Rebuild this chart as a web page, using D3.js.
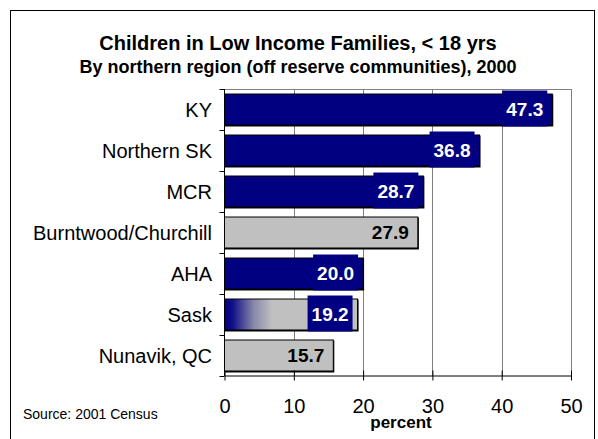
<!DOCTYPE html>
<html><head><meta charset="utf-8">
<script src="https://cdn.jsdelivr.net/npm/d3@7"></script>
<style>body{margin:0;background:#fff}svg{display:block;font-family:"Liberation Sans",Arial,sans-serif}</style>
</head><body>
<svg id="c" width="598" height="439"></svg>
<script>
const categories = ["KY","Northern SK","MCR","Burntwood/Churchill","AHA","Sask","Nunavik, QC"];
const values = [47.3,36.8,28.7,27.9,20.0,19.2,15.7];
const barStyle = ["navy","navy","navy","gray","navy","gradient","gray"];
const xTicks = [0,10,20,30,40,50];
const title = "Children in Low Income Families, < 18 yrs";
const subtitle = "By northern region (off reserve communities), 2000";

const svg = d3.select("#c");
const defs = svg.append("defs");
const g1 = defs.append("linearGradient").attr("id","sg").attr("x1","0").attr("x2","1").attr("y1","0").attr("y2","0");
g1.append("stop").attr("offset","0").attr("stop-color","#000080");
g1.append("stop").attr("offset","0.06").attr("stop-color","#101088");
g1.append("stop").attr("offset","0.22").attr("stop-color","#8888aa");
g1.append("stop").attr("offset","0.36").attr("stop-color","#c0c0c0");
g1.append("stop").attr("offset","1").attr("stop-color","#c0c0c0");

// outer border
svg.append("rect").attr("x",10.5).attr("y",10.5).attr("width",584).attr("height",440)
  .attr("fill","none").attr("stroke","#000").attr("stroke-width",1);

const L = 224.5, R = 571, T = 89, B = 376;
const x = d3.scaleLinear().domain([0,50]).range([L,R]);
const y = d3.scaleBand().domain(categories).range([T,B]).paddingInner(0.22).paddingOuter(0.11);

// gridlines
svg.append("g").selectAll("line").data(xTicks.slice(1)).join("line")
  .attr("x1",d=>Math.round(x(d))+0.5).attr("x2",d=>Math.round(x(d))+0.5)
  .attr("y1",T).attr("y2",B).attr("stroke","#808080").attr("stroke-width",1);
svg.append("line").attr("x1",L).attr("x2",Math.round(R)+0.5).attr("y1",T+0.5).attr("y2",T+0.5).attr("stroke","#808080");

// bars
const bars = svg.append("g");
categories.forEach((c,i)=>{
  const v = values[i], st = barStyle[i];
  const by = y(c), bh = y.bandwidth();
  const fill = st==="navy" ? "#000080" : st==="gray" ? "#c0c0c0" : "url(#sg)";
  bars.append("rect").attr("x",x(0)).attr("y",by+1).attr("width",x(v)-x(0)+1).attr("height",bh).attr("fill","#000");
  bars.append("rect").attr("x",x(0)).attr("y",by+0.5).attr("width",x(v)-x(0)).attr("height",bh-1)
    .attr("fill",fill).attr("stroke","#000").attr("stroke-width",1);
});

// labels
categories.forEach((c,i)=>{
  const v = values[i], st = barStyle[i];
  const cy = y(c) + y.bandwidth()/2;
  const txt = v.toFixed(1);
  const tx = x(v) - 9;
  const t = svg.append("text").attr("x",tx).attr("y",cy).attr("dy","0.36em")
    .attr("text-anchor","end").attr("font-weight","bold").attr("font-size","19px")
    .attr("fill", st==="gray" ? "#000" : "#fff").text(txt);
  if (st!=="gray") {
    const bb = t.node().getBBox();
    svg.insert("rect", () => t.node()).attr("x",bb.x-4).attr("y",y(c)-3).attr("width",bb.width+8).attr("height",y.bandwidth()+4)
      .attr("fill","#000080");
  }
});

// axes
svg.append("line").attr("x1",L).attr("x2",L).attr("y1",T).attr("y2",B).attr("stroke","#000");
const bounds = d3.range(categories.length+1).map(i=> i<categories.length ? y(categories[i]) - y.step()*y.paddingInner()/2 : B);
bounds[0]=T;
svg.append("g").selectAll("line").data(bounds).join("line")
  .attr("x1",L-5).attr("x2",L).attr("y1",d=>Math.round(d)+0.5).attr("y2",d=>Math.round(d)+0.5).attr("stroke","#000");
svg.append("g").selectAll("text").data(categories).join("text")
  .attr("x",212).attr("y",d=>y(d)+y.bandwidth()/2).attr("dy","0.36em")
  .attr("text-anchor","end").attr("font-size","20px").attr("fill","#000").text(d=>d);

const xAxis = d3.axisBottom(x).tickValues(xTicks).tickSize(5).tickSizeOuter(0).tickPadding(18);
const xa = svg.append("g").attr("transform",`translate(0,${B-0.5})`).call(xAxis);
xa.select(".domain").attr("stroke","#000");
xa.selectAll(".tick line").attr("y1",-5).attr("y2",5).attr("stroke","#000");
xa.selectAll(".tick text").attr("font-size","20px").attr("font-family","Liberation Sans, Arial, sans-serif").attr("fill","#000");

svg.append("text").attr("x",401).attr("y",428).attr("text-anchor","middle").attr("font-weight","bold").attr("font-size","17px").text("percent");
svg.append("text").attr("x",23).attr("y",419).attr("font-size","14px").text("Source: 2001 Census");

svg.append("text").attr("x",298).attr("y",50).attr("text-anchor","middle").attr("font-weight","bold").attr("font-size","20px").text(title);
svg.append("text").attr("x",298).attr("y",73).attr("text-anchor","middle").attr("font-weight","bold").attr("font-size","18px").text(subtitle);
</script>
</body></html>
